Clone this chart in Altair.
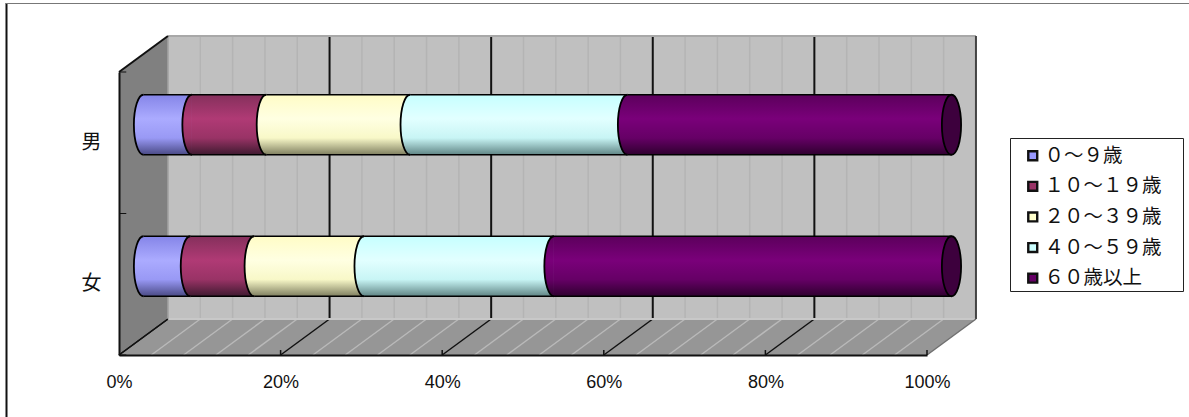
import altair as alt
import pandas as pd

# Age-band shares (%) by sex
AGE_BANDS = ["０～９歳", "１０～１９歳", "２０～３９歳", "４０～５９歳", "６０歳以上"]
BASE_COLORS = ["#9999FF", "#993366", "#FFFFCC", "#CCFFFF", "#660066"]
MALE_SHARES = [6.0, 9.2, 17.8, 26.9, 40.1]
FEMALE_SHARES = [5.8, 7.9, 13.6, 23.5, 49.2]
SEX_LABELS = ["女", "男"]
SEX_POSITIONS = [0.5, 1.5]
X_TICKS = [0, 20, 40, 60, 80, 100]

# Cylinder shading per band: top edge, highlight, lower body, bottom edge
SHADE_TOP = ["#8585E8", "#85305C", "#FFFCC6", "#C6FFFF", "#5C005C"]
SHADE_HIGH = ["#ABABFF", "#B03A75", "#FFFFE2", "#E2FFFF", "#7A007A"]
SHADE_LOW = ["#9999F5", "#993366", "#F8F8C8", "#C8F5F5", "#660066"]
SHADE_BOTTOM = ["#4A4A85", "#3F1A30", "#7F7F60", "#608585", "#2F002F"]

# Oblique projection: how far the back wall sits from the front plane, in data units
DEPTH_X = 6.06
DEPTH_Y = 0.2544
BAR_HALF = 0.212
# Small overlap between a segment's body and its rounded edge, so no seam shows
SEAM = 0.06

x_scale = alt.Scale(domain=[0, 100], range=[119, 927], nice=False, zero=False)
y_scale = alt.Scale(domain=[0, 2], range=[355, 72], nice=False, zero=False)

# The axes sit on the front plane, inside the full-page group
x_axis = alt.Axis(
    values=X_TICKS, labelExpr="datum.value + '%'", title=None, grid=False, zindex=1, offset=-62,
    domainColor="#111111", domainWidth=2, ticks=False, labelPadding=32, labelBaseline="alphabetic",
    labelFont="Liberation Sans", labelFontSize=18, labelColor="#111111",
    labelOverlap=False, labelFlush=False,
)
y_axis = alt.Axis(
    values=[0, 1, 2], labels=False, title=None, grid=False, ticks=False, zindex=1, offset=-119,
    domainColor="#111111", domainWidth=2,
)
X = lambda f: alt.X(f, type="quantitative", scale=x_scale, axis=x_axis)
Y = lambda f: alt.Y(f, type="quantitative", scale=y_scale, axis=y_axis)


def cylinder_fill(i):
    return alt.LinearGradient(
        gradient="linear", x1=0, x2=0, y1=0, y2=1,
        stops=[
            alt.GradientStop(offset=0, color=SHADE_TOP[i]),
            alt.GradientStop(offset=0.4, color=SHADE_HIGH[i]),
            alt.GradientStop(offset=0.72, color=SHADE_LOW[i]),
            alt.GradientStop(offset=1, color=SHADE_BOTTOM[i]),
        ],
    )


# Wall and floor polygons as area bands
left_wall = pd.DataFrame({"x": [0, DEPTH_X], "y": [2, 2 + DEPTH_Y], "y2": [0, DEPTH_Y]})
back_wall = pd.DataFrame({"x": [DEPTH_X, 100 + DEPTH_X], "y": [2 + DEPTH_Y] * 2, "y2": [DEPTH_Y] * 2})
floor = pd.DataFrame({
    "x": [0, DEPTH_X, 100, 100 + DEPTH_X],
    "y": [0, DEPTH_Y, DEPTH_Y, DEPTH_Y],
    "y2": [0, 0, 0, DEPTH_Y],
})


def band(df, color):
    return alt.Chart(df).mark_area(color=color, opacity=1, interpolate="linear", strokeWidth=0).encode(
        x=X("x"), y=Y("y"), y2="y2"
    )


layers = [band(left_wall, "#808080"), band(back_wall, "#C0C0C0"), band(floor, "#969696")]

# Gridlines run across the floor and up the back wall
ticks = pd.DataFrame({"v": list(range(0, 101, 4))})
ticks["vb"] = ticks.v + DEPTH_X
ticks["y0"] = 0.0
ticks["yb"] = DEPTH_Y
ticks["yt"] = 2 + DEPTH_Y
major = ticks[ticks.v % 20 == 0]
minor = ticks[ticks.v % 20 != 0]

layers += [
    alt.Chart(minor).mark_rule(color="#B9B9B9", strokeWidth=1.5).encode(x=X("v"), x2="vb", y=Y("y0"), y2="yb"),
    alt.Chart(minor).mark_rule(color="#B4B4B4", strokeWidth=1.5).encode(x=X("vb"), y=Y("yb"), y2="yt"),
    alt.Chart(major[major.v.between(1, 99)]).mark_rule(color="#111111", strokeWidth=2).encode(
        x=X("vb"), y=Y("yb"), y2="yt"
    ),
    alt.Chart(major[major.v < 100]).mark_rule(color="#111111", strokeWidth=1.5).encode(
        x=X("v"), x2="vb", y=Y("y0"), y2="yb"
    ),
]

# Wall edges
edges = pd.DataFrame([
    {"x": DEPTH_X, "x2": 100 + DEPTH_X, "y": DEPTH_Y, "y2": DEPTH_Y, "c": "#C8C8C8", "w": 2},
    {"x": DEPTH_X, "x2": 100 + DEPTH_X, "y": 2 + DEPTH_Y, "y2": 2 + DEPTH_Y, "c": "#A8A8A8", "w": 2},
    {"x": 100 + DEPTH_X, "x2": 100 + DEPTH_X, "y": DEPTH_Y, "y2": 2 + DEPTH_Y, "c": "#444444", "w": 2},
    {"x": 100, "x2": 100 + DEPTH_X, "y": 0, "y2": DEPTH_Y, "c": "#707070", "w": 1.5},
    {"x": DEPTH_X, "x2": DEPTH_X, "y": DEPTH_Y, "y2": 2 + DEPTH_Y, "c": "#A0A0A0", "w": 1.5},
    {"x": 0, "x2": DEPTH_X, "y": 2, "y2": 2 + DEPTH_Y, "c": "#111111", "w": 2},
    {"x": 0, "x2": DEPTH_X, "y": 0, "y2": DEPTH_Y, "c": "#111111", "w": 1.5},
])
for rec in edges.to_dict("records"):
    layers.append(
        alt.Chart(pd.DataFrame([rec])).mark_rule(color=rec["c"], strokeWidth=rec["w"]).encode(
            x=X("x"), x2="x2", y=Y("y"), y2="y2"
        )
    )

# Cylinders: each segment is a shaded body plus a bulging left edge that overlaps its neighbour
LEFT_EDGE = "M0,-1A0.32,1,0,0,0,0,1"
FULL_ELLIPSE = "M0,-1A0.32,1,0,0,0,0,1A0.32,1,0,0,0,0,-1Z"
CAP_SIZE = 3600

rows = []
for sex, pos, shares in zip(SEX_LABELS, SEX_POSITIONS, [FEMALE_SHARES, MALE_SHARES]):
    start = 0.0
    for i, share in enumerate(shares):
        rows.append({
            "sex": sex, "band": i,
            "x0": start + DEPTH_X / 2, "x1": start + share + DEPTH_X / 2,
            "x0_body": start + DEPTH_X / 2 - SEAM,
            "yc": pos + DEPTH_Y / 2,
            "yt": pos + DEPTH_Y / 2 + BAR_HALF,
            "yb": pos + DEPTH_Y / 2 - BAR_HALF,
        })
        start += share
segments = pd.DataFrame(rows)

for i in range(len(AGE_BANDS)):
    seg = segments[segments.band == i]
    fill = cylinder_fill(i)
    layers += [
        alt.Chart(seg).mark_rect(fill=fill, strokeWidth=0).encode(
            x=X("x0_body"), x2="x1", y=Y("yt"), y2="yb"
        ),
        alt.Chart(seg).mark_point(
            shape=LEFT_EDGE, size=CAP_SIZE, filled=True, fill=fill, opacity=1,
            stroke="#000000", strokeWidth=1.8,
        ).encode(x=X("x0"), y=Y("yc")),
        alt.Chart(seg).mark_rule(color="#000000", strokeWidth=1.5).encode(x=X("x0"), x2="x1", y=Y("yt")),
        alt.Chart(seg).mark_rule(color="#000000", strokeWidth=1.5).encode(x=X("x0"), x2="x1", y=Y("yb")),
    ]

# Far end of each cylinder
far_end = segments[segments.band == 4]
layers.append(
    alt.Chart(far_end).mark_point(
        shape=FULL_ELLIPSE, size=CAP_SIZE, filled=True, fill="#3D003D", opacity=1,
        stroke="#000000", strokeWidth=1.8,
    ).encode(x=X("x1"), y=Y("yc"))
)

# Short ticks pointing inward from both axes
inner_x = pd.DataFrame({"v": [20, 40, 60, 80, 100], "y": [0.0] * 5, "y2": [0.035] * 5})
inner_y = pd.DataFrame({"x": [0.0] * 3, "x2": [0.9] * 3, "y": [0, 1, 2]})
layers += [
    alt.Chart(inner_x).mark_rule(color="#111111", strokeWidth=1.5).encode(x=X("v"), y=Y("y"), y2="y2"),
    alt.Chart(inner_y).mark_rule(color="#111111", strokeWidth=1).encode(x=X("x"), x2="x2", y=Y("y")),
]

# Category labels
layers.append(
    alt.Chart(pd.DataFrame({"label": SEX_LABELS, "pos": SEX_POSITIONS})).mark_text(
        font="Noto Sans CJK JP", fontSize=20, color="#111111", align="center", baseline="middle"
    ).encode(x=alt.value(91.5), y=Y("pos"), text="label:N")
)

# Outer frame drawn on the top and left only, plus the legend box
layers += [
    alt.Chart(pd.DataFrame({"a": [0]})).mark_rule(color="#111111", strokeWidth=2).encode(
        x=alt.value(6.5), y=alt.value(3), y2=alt.value(417)
    ),
    alt.Chart(pd.DataFrame({"a": [0]})).mark_rule(color="#777777", strokeWidth=1).encode(
        x=alt.value(6), x2=alt.value(1189), y=alt.value(3.5)
    ),
    alt.Chart(pd.DataFrame({"a": [0]})).mark_rect(fill="#FFFFFF", stroke="#222222", strokeWidth=1).encode(
        x=alt.value(1010.5), x2=alt.value(1183.5), y=alt.value(138.5), y2=alt.value(291.5)
    ),
]

# Legend, fed by a layer of zero-sized points
legend_layer = alt.Chart(pd.DataFrame({"band": AGE_BANDS})).mark_point(filled=True, size=0).encode(
    x=alt.value(0), y=alt.value(0),
    color=alt.Color("band:N", scale=alt.Scale(domain=AGE_BANDS, range=BASE_COLORS), legend=alt.Legend(
        orient="none", legendX=1010, legendY=138, title=None, padding=8, offset=0,
        symbolType="square", symbolSize=80,
        symbolStrokeColor="#111111", symbolStrokeWidth=2.4, symbolOpacity=1,
        labelFont="Noto Sans CJK JP", labelFontSize=19.5, labelColor="#111111", labelLimit=200,
        rowPadding=9.6, symbolOffset=5, labelOffset=2,
    )),
)
layers.append(legend_layer)

chart = alt.layer(*layers, data=alt.Data(values=[{}])).properties(
    width=1189, height=417, padding=0, autosize=alt.AutoSizeParams(type="none"),
    background="#FFFFFF",
).configure_view(stroke=None)

chart.save("out.html", embed_options={"renderer": "svg", "actions": False})
